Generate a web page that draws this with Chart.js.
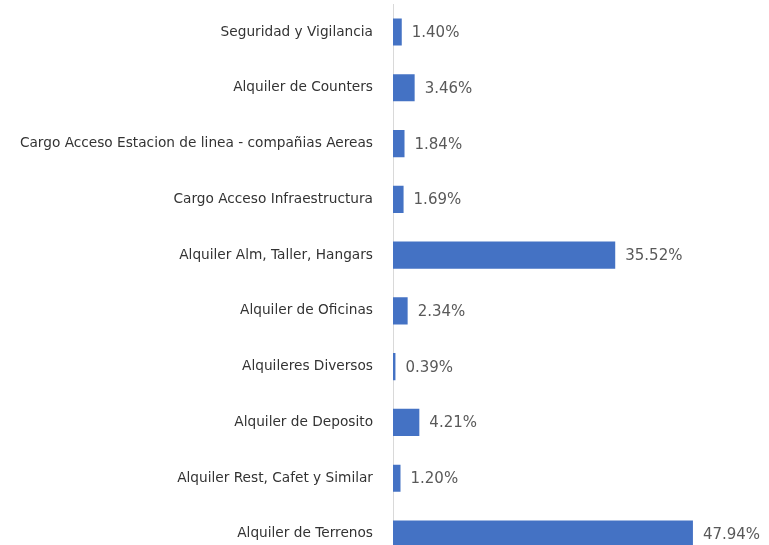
<!DOCTYPE html>
<html>
<head>
<meta charset="utf-8">
<script src="https://cdn.jsdelivr.net/npm/chart.js@4/dist/chart.umd.min.js"></script>
<style>
  html, body { margin: 0; padding: 0; background: #fff; overflow: hidden; }
  #wrap { width: 769px; height: 545px; overflow: hidden; }
  #c { display: block; margin-top: -16px; }
</style>
</head>
<body>
<div id="wrap"><canvas id="c" width="769" height="598"></canvas></div>
<script>
// categories top to bottom, shares in %
const categories = [
  'Seguridad y Vigilancia',
  'Alquiler de Counters',
  'Cargo Acceso Estacion de linea - compañias Aereas',
  'Cargo Acceso Infraestructura',
  'Alquiler Alm, Taller, Hangars',
  'Alquiler de Oficinas',
  'Alquileres Diversos',
  'Alquiler de Deposito',
  'Alquiler Rest, Cafet y Similar',
  'Alquiler de Terrenos'
];
const shares = [1.40, 3.46, 1.84, 1.69, 35.52, 2.34, 0.39, 4.21, 1.20, 47.94];

const FONT = "'DejaVu Sans', sans-serif";

// draws the "x.xx%" next to each bar
const valueLabels = {
  id: 'valueLabels',
  afterDatasetsDraw(chart) {
    const ctx = chart.ctx;
    const meta = chart.getDatasetMeta(0);
    ctx.save();
    ctx.font = '15px ' + FONT;
    ctx.fillStyle = '#595959';
    ctx.textBaseline = 'middle';
    ctx.textAlign = 'left';
    meta.data.forEach((bar, i) => {
      ctx.fillText(shares[i].toFixed(2) + '%', bar.x + 10, bar.y + 1);
    });
    ctx.restore();
  }
};

new Chart(document.getElementById('c'), {
  type: 'bar',
  data: {
    labels: categories,
    datasets: [{
      data: shares,
      backgroundColor: '#4472C4',
      barPercentage: 0.5,
      categoryPercentage: 0.97
    }]
  },
  options: {
    indexAxis: 'y',
    responsive: false,
    animation: false,
    layout: { padding: { top: 0, right: 10, left: 0, bottom: 0 } },
    plugins: { legend: { display: false }, tooltip: { enabled: false } },
    scales: {
      x: { display: false, min: 0, max: 58.5 },
      y: {
        grid: { display: false },
        border: { display: true, color: '#d9d9d9', width: 1 },
        ticks: { color: '#333333', font: { family: FONT, size: 13.7 }, padding: 12 },
        afterFit(scale) { scale.width = 393; }
      }
    }
  },
  plugins: [valueLabels]
});
</script>
</body>
</html>
